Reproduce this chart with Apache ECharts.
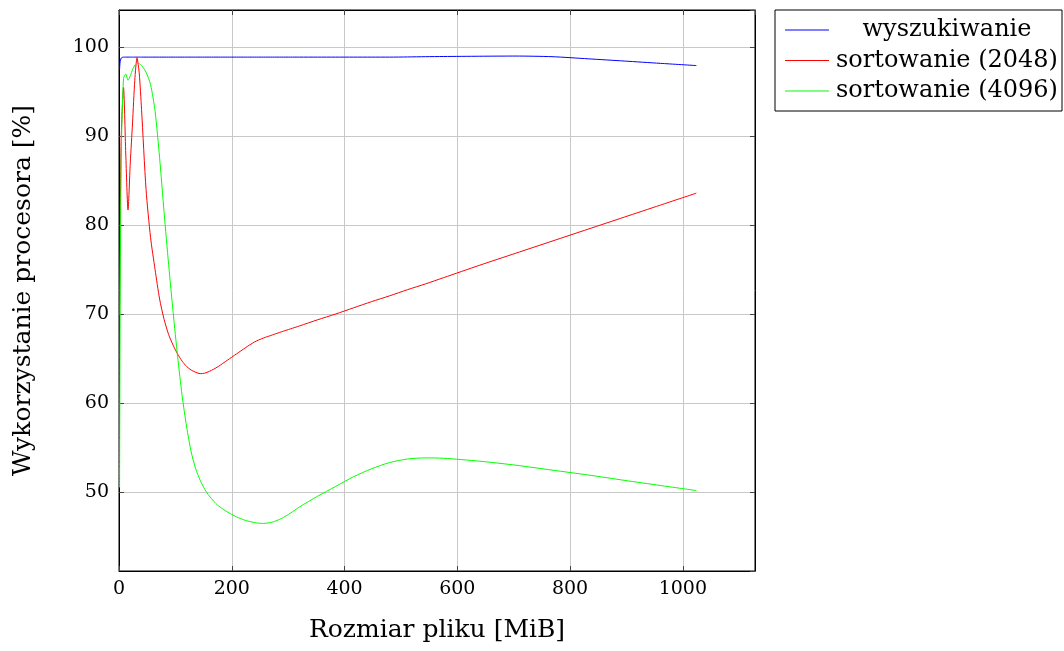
<!DOCTYPE html>
<html>
<head>
<meta charset="utf-8">
<script src="https://cdn.jsdelivr.net/npm/echarts@6/dist/echarts.min.js"></script>
<style>
html,body{margin:0;padding:0;background:#fff;}
#chart{width:1064px;height:651px;}
</style>
</head>
<body>
<div id="chart"></div>
<script>
const sizes = [1,2,4,8,12,16,20,24,28,32,36,40,48,56,64,72,80,88,96,104,112,120,128,136,144,152,160,168,176,192,208,224,240,256,272,288,304,320,352,384,416,448,480,512,544,576,640,704,768,832,896,960,1024];

const seriesNames = ['wyszukiwanie', 'sortowanie (2048)', 'sortowanie (4096)'];

const searchValues = [97.5,98.3,98.8,98.9,98.9,98.9,98.9,98.9,98.9,98.9,98.9,98.9,98.9,98.9,98.9,98.9,98.9,98.9,98.9,98.9,98.9,98.9,98.9,98.9,98.9,98.9,98.9,98.9,98.9,98.9,98.9,98.9,98.9,98.9,98.9,98.9,98.9,98.9,98.9,98.9,98.9,98.9,98.9,98.92,98.95,98.97,99.0,99.02,98.95,98.71,98.46,98.2,97.95];

const sort2048Values = [70,79,90,95.5,88,81.7,87,91.5,96.3,98.8,97.0,93.0,84.0,78.6,75.0,71.7,69.4,67.7,66.5,65.5,64.7,64.1,63.7,63.45,63.3,63.35,63.55,63.8,64.1,64.8,65.5,66.2,66.85,67.3,67.65,68.0,68.33,68.66,69.35,70.0,70.7,71.4,72.05,72.75,73.4,74.1,75.5,76.85,78.2,79.55,80.9,82.25,83.6];

const sort4096Values = [50.5,70,88,96.5,97.0,96.3,96.8,97.5,98.0,98.2,98.15,97.95,97.2,95.8,92.8,87.6,81.4,75.6,70.2,65.2,60.8,57.3,54.5,52.6,51.3,50.3,49.55,48.95,48.45,47.75,47.2,46.8,46.55,46.45,46.6,47.0,47.6,48.3,49.5,50.6,51.7,52.6,53.3,53.7,53.82,53.78,53.45,53.0,52.45,51.9,51.3,50.72,50.15];

const xTitle = 'Rozmiar pliku [MiB]';
const yTitle = 'Wykorzystanie procesora [%]';

const colors = ['#0000ff', '#ff0000', '#00ff00'];
const valueSets = [searchValues, sort2048Values, sort4096Values];

const FONT = 'DejaVu Serif';

const chart = echarts.init(document.getElementById('chart'), null, {renderer: 'canvas'});

const series = seriesNames.map((name, i) => ({
  name: name,
  type: 'line',
  data: sizes.map((s, j) => [s, valueSets[i][j]]),
  showSymbol: false,
  smooth: 0.25,
  lineStyle: {color: colors[i], width: 1},
  itemStyle: {color: colors[i]},
  emphasis: {disabled: true},
  animation: false
}));

const tickStyle = {show: true, inside: true, length: 5, lineStyle: {color: '#444', width: 1}};

chart.setOption({
  animation: false,
  grid: {left: 119, top: 10, width: 636, height: 561, show: true, borderColor: '#000', borderWidth: 1, containLabel: false},
  legend: {
    orient: 'vertical',
    left: 775,
    top: 10,
    data: seriesNames.map((n, i) => ({
      name: n,
      icon: 'rect',
      itemStyle: {color: colors[i], borderWidth: 0},
      lineStyle: {color: colors[i], width: 0}
    })),
    itemWidth: 44,
    itemHeight: 1,
    itemGap: 6.5,
    padding: [8, 2, 8, 10],
    borderColor: '#000',
    borderWidth: 1,
    selectedMode: false,
    formatter: name => '{c|' + name + '}',
    textStyle: {
      color: '#000',
      fontFamily: FONT,
      fontSize: 24,
      rich: {c: {width: 226, align: 'center', fontFamily: FONT, fontSize: 24, lineHeight: 30, color: '#000'}}
    }
  },
  xAxis: [{
    type: 'value',
    min: 0,
    max: 1128,
    splitNumber: 6,
    position: 'bottom',
    name: xTitle,
    nameLocation: 'middle',
    nameGap: 47,
    nameTextStyle: {color: '#000', fontFamily: FONT, fontSize: 25},
    axisLine: {show: true, onZero: false, lineStyle: {color: '#000'}},
    axisTick: tickStyle,
    axisLabel: {color: '#000', fontFamily: FONT, fontSize: 19, margin: 9, showMaxLabel: false, formatter: v => String(v)},
    splitLine: {show: true, lineStyle: {color: '#c8c8c8', width: 1}}
  }, {
    type: 'value',
    min: 0,
    max: 1128,
    splitNumber: 6,
    position: 'top',
    axisLine: {show: true, onZero: false, lineStyle: {color: '#000'}},
    axisTick: tickStyle,
    axisLabel: {show: false},
    splitLine: {show: false}
  }],
  yAxis: [{
    type: 'value',
    min: 41.1,
    max: 104.2,
    splitNumber: 6,
    position: 'left',
    name: yTitle,
    nameLocation: 'middle',
    nameGap: 83,
    nameTextStyle: {color: '#000', fontFamily: FONT, fontSize: 25},
    axisLine: {show: true, onZero: false, lineStyle: {color: '#000'}},
    axisTick: tickStyle,
    axisLabel: {color: '#000', fontFamily: FONT, fontSize: 19, margin: 10, showMinLabel: false, showMaxLabel: false, formatter: v => String(v)},
    splitLine: {show: true, lineStyle: {color: '#c8c8c8', width: 1}}
  }, {
    type: 'value',
    min: 41.1,
    max: 104.2,
    splitNumber: 6,
    position: 'right',
    axisLine: {show: true, onZero: false, lineStyle: {color: '#000'}},
    axisTick: tickStyle,
    axisLabel: {show: false},
    splitLine: {show: false}
  }],
  series: series
});
</script>
</body>
</html>
